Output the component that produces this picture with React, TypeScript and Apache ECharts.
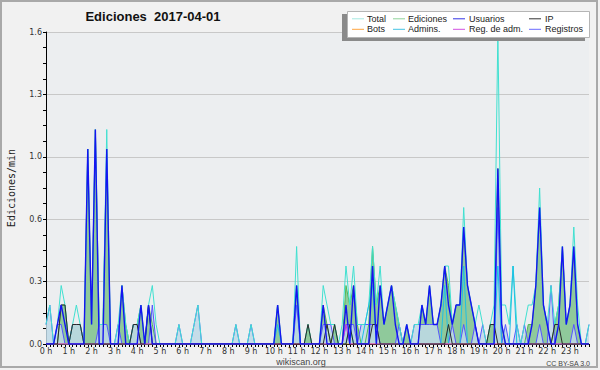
import React, { useEffect, useRef } from "react";
import * as echarts from "echarts";

// Edits per 10-minute bin (144 bins, 00:00 .. 23:50); plotted as edits per minute.
const total = [
  1, 2, 0, 1, 3, 2, 0, 1, 2, 1, 0, 10,
  1, 11, 1, 1, 11, 0, 0, 1, 3, 1, 0, 1,
  1, 2, 0, 2, 3, 1, 0, 0, 0, 0, 0, 1,
  0, 0, 0, 1, 2, 0, 0, 0, 0, 0, 0, 0,
  0, 0, 1, 0, 0, 0, 1, 0, 0, 0, 0, 0,
  0, 2, 0, 0, 0, 0, 5, 0, 0, 1, 0, 0,
  0, 3, 2, 1, 1, 0, 1, 4, 2, 4, 1, 1,
  1, 2, 5, 2, 4, 1, 2, 3, 2, 1, 0, 1,
  0, 1, 1, 2, 1, 3, 1, 1, 2, 4, 4, 1,
  2, 2, 7, 3, 2, 1, 2, 1, 0, 1, 2, 16,
  2, 2, 1, 4, 1, 0, 1, 2, 2, 3, 8, 2,
  1, 3, 1, 2, 5, 1, 2, 6, 2, 0, 0, 1,
];
const ediciones = [
  0, 0, 0, 0, 2, 2, 0, 1, 1, 1, 0, 10,
  1, 11, 1, 1, 10, 0, 0, 0, 3, 1, 0, 1,
  1, 2, 0, 2, 1, 0, 0, 0, 0, 0, 0, 0,
  0, 0, 0, 0, 0, 0, 0, 0, 0, 0, 0, 0,
  0, 0, 0, 0, 0, 0, 0, 0, 0, 0, 0, 0,
  0, 2, 0, 0, 0, 0, 3, 0, 0, 1, 0, 0,
  0, 2, 1, 0, 1, 0, 0, 3, 2, 3, 1, 0,
  0, 1, 5, 2, 3, 1, 2, 3, 2, 1, 0, 1,
  0, 0, 0, 2, 1, 3, 1, 1, 2, 4, 3, 1,
  2, 2, 6, 3, 2, 1, 0, 0, 0, 1, 1, 9,
  1, 0, 0, 0, 0, 0, 0, 1, 1, 3, 7, 2,
  1, 0, 1, 2, 5, 1, 2, 5, 1, 0, 0, 0,
];
const usuarios = [
  0, 0, 0, 1, 2, 1, 0, 0, 0, 0, 0, 10,
  1, 11, 0, 0, 10, 0, 0, 0, 3, 0, 0, 0,
  0, 2, 0, 2, 0, 0, 0, 0, 0, 0, 0, 0,
  0, 0, 0, 0, 0, 0, 0, 0, 0, 0, 0, 0,
  0, 0, 0, 0, 0, 0, 0, 0, 0, 0, 0, 0,
  0, 2, 0, 0, 0, 0, 3, 0, 0, 0, 0, 0,
  0, 2, 0, 0, 0, 0, 0, 2, 0, 3, 0, 0,
  0, 0, 4, 0, 3, 1, 2, 3, 1, 0, 0, 1,
  0, 0, 0, 2, 1, 3, 1, 1, 2, 4, 2, 1,
  2, 2, 6, 3, 2, 1, 0, 0, 0, 0, 0, 9,
  1, 0, 0, 0, 0, 0, 0, 0, 1, 3, 7, 2,
  1, 0, 0, 1, 5, 1, 2, 5, 1, 0, 0, 0,
];
const ip = [
  0, 0, 0, 0, 2, 2, 0, 1, 1, 1, 0, 0,
  0, 0, 0, 0, 0, 0, 0, 0, 0, 0, 0, 1,
  1, 0, 0, 2, 0, 0, 0, 0, 0, 0, 0, 0,
  0, 0, 0, 0, 0, 0, 0, 0, 0, 0, 0, 0,
  0, 0, 0, 0, 0, 0, 0, 0, 0, 0, 0, 0,
  0, 0, 0, 0, 0, 0, 0, 0, 0, 1, 0, 0,
  0, 0, 1, 0, 1, 0, 0, 0, 1, 0, 0, 0,
  0, 0, 1, 1, 0, 0, 0, 0, 0, 0, 0, 0,
  0, 0, 0, 0, 0, 0, 0, 0, 0, 0, 1, 0,
  0, 0, 0, 0, 0, 0, 0, 0, 0, 1, 1, 0,
  0, 0, 0, 0, 0, 0, 0, 0, 0, 0, 0, 0,
  0, 0, 1, 1, 0, 0, 0, 0, 0, 0, 0, 0,
];
const bots = [
  0, 0, 0, 0, 0, 0, 0, 0, 0, 0, 0, 0,
  0, 0, 0, 0, 0, 0, 0, 0, 0, 0, 0, 0,
  0, 0, 0, 0, 0, 0, 0, 0, 0, 0, 0, 0,
  0, 0, 0, 0, 0, 0, 0, 0, 0, 0, 0, 0,
  0, 0, 0, 0, 0, 0, 0, 0, 0, 0, 0, 0,
  0, 0, 0, 0, 0, 0, 0, 0, 0, 0, 0, 0,
  0, 0, 0, 0, 0, 0, 0, 0, 0, 0, 0, 0,
  0, 0, 0, 0, 0, 0, 0, 0, 0, 0, 0, 0,
  0, 0, 0, 0, 0, 0, 0, 0, 0, 0, 0, 0,
  0, 0, 0, 0, 0, 0, 0, 0, 0, 0, 0, 0,
  0, 0, 0, 0, 0, 0, 0, 0, 0, 0, 0, 0,
  0, 0, 0, 0, 0, 0, 0, 0, 0, 0, 0, 0,
];
const admins = [
  0, 0, 0, 0, 0, 0, 0, 0, 0, 0, 0, 0,
  0, 0, 0, 0, 0, 0, 0, 0, 0, 0, 0, 0,
  0, 0, 0, 0, 0, 0, 0, 0, 0, 0, 0, 0,
  0, 0, 0, 0, 0, 0, 0, 0, 0, 0, 0, 0,
  0, 0, 0, 0, 0, 0, 0, 0, 0, 0, 0, 0,
  0, 1, 0, 0, 0, 0, 3, 0, 0, 0, 0, 0,
  0, 0, 0, 0, 0, 0, 0, 0, 1, 0, 0, 0,
  1, 2, 3, 0, 0, 0, 0, 0, 0, 0, 0, 0,
  0, 0, 0, 0, 0, 0, 0, 0, 0, 3, 0, 0,
  0, 0, 4, 0, 0, 0, 0, 0, 0, 0, 0, 4,
  0, 0, 0, 4, 0, 0, 0, 0, 0, 0, 0, 0,
  0, 0, 0, 0, 0, 0, 0, 0, 0, 0, 0, 0,
];
const regAdm = [
  0, 0, 0, 0, 0, 0, 0, 0, 0, 0, 0, 0,
  0, 0, 0, 0, 0, 0, 0, 0, 0, 0, 0, 0,
  0, 0, 0, 0, 0, 0, 0, 0, 0, 0, 0, 0,
  0, 0, 0, 0, 0, 0, 0, 0, 0, 0, 0, 0,
  0, 0, 0, 0, 0, 0, 0, 0, 0, 0, 0, 0,
  0, 0, 0, 0, 0, 0, 0, 0, 0, 0, 0, 0,
  0, 0, 0, 0, 0, 0, 0, 1, 0, 0, 0, 0,
  0, 0, 0, 0, 0, 0, 0, 0, 0, 0, 0, 0,
  0, 0, 0, 0, 0, 0, 0, 0, 0, 0, 0, 0,
  0, 0, 0, 0, 0, 0, 0, 0, 0, 0, 0, 0,
  0, 0, 0, 0, 0, 0, 0, 0, 0, 0, 0, 0,
  0, 0, 0, 0, 0, 0, 0, 0, 0, 0, 0, 0,
];
const registros = [
  1, 2, 0, 1, 1, 0, 0, 1, 1, 1, 0, 0,
  0, 0, 1, 1, 1, 0, 0, 1, 0, 0, 0, 1,
  1, 0, 0, 0, 2, 0, 0, 0, 0, 0, 0, 1,
  0, 0, 0, 1, 2, 0, 0, 0, 0, 0, 0, 0,
  0, 0, 1, 0, 0, 0, 1, 0, 0, 0, 0, 0,
  0, 0, 0, 0, 0, 0, 2, 0, 0, 0, 0, 0,
  0, 1, 1, 1, 0, 0, 0, 1, 1, 1, 0, 1,
  1, 1, 1, 1, 0, 0, 0, 0, 0, 1, 0, 0,
  0, 1, 1, 1, 1, 1, 1, 1, 0, 0, 0, 1,
  0, 0, 1, 0, 0, 1, 0, 1, 0, 0, 0, 7,
  0, 1, 0, 0, 1, 0, 1, 0, 0, 0, 1, 0,
  0, 3, 0, 0, 0, 0, 0, 1, 0, 0, 0, 1,
];

const hourLabels = [
  "0 h", "1 h", "2 h", "3 h", "4 h", "5 h", "6 h", "7 h", "8 h", "9 h", "10 h", "11 h",
  "12 h", "13 h", "14 h", "15 h", "16 h", "17 h", "18 h", "19 h", "20 h", "21 h", "22 h", "23 h",
];
const yTickLabels = ["0.0", "0.3", "0.6", "1.0", "1.3", "1.6"];

const legendNames = ["Total", "Ediciones", "Usuarios", "IP", "Bots", "Admins.", "Reg. de adm.", "Registros"];
const legendColors = ["#a6e9e2", "#8fd39a", "#3434e6", "#333333", "#ffa540", "#44c4e4", "#d24fe2", "#6b6bff"];

const BIN_MINUTES = 10;
const toPoints = (arr: number[]) => arr.map((c, i) => [i, c / BIN_MINUTES]);

const lineSeries = (name: string, data: number[], color: string, width: number, area?: any) => ({
  name,
  type: "line",
  data: toPoints(data),
  showSymbol: false,
  symbol: "none",
  silent: true,
  lineStyle: { color, width },
  itemStyle: { color },
  areaStyle: area,
  clip: true,
});

function buildGraphic() {
  const els: any[] = [];
  els.push({
    type: "rect",
    shape: { x: 1, y: 1, width: 596, height: 366 },
    style: { fill: "none", stroke: "#a9a9a9", lineWidth: 2 },
    silent: true,
    z: 100,
  });
  els.push({
    type: "text",
    x: 153,
    y: 16,
    style: {
      text: "Ediciones  2017-04-01",
      font: 'bold 13px "Liberation Sans"',
      fill: "#111",
      align: "center",
      verticalAlign: "middle",
      textAlign: "center",
      textVerticalAlign: "middle",
    },
    z: 100,
  });
  els.push({
    type: "text",
    x: 11,
    y: 188,
    rotation: Math.PI / 2,
    style: {
      text: "Ediciones/min",
      font: '10px "DejaVu Sans Mono"',
      fill: "#222",
      align: "center",
      verticalAlign: "middle",
      textAlign: "center",
      textVerticalAlign: "middle",
    },
    z: 100,
  });
  els.push({
    type: "text",
    x: 301,
    y: 362,
    style: {
      text: "wikiscan.org",
      font: '9px "Liberation Sans"',
      fill: "#444",
      align: "center",
      verticalAlign: "middle",
      textAlign: "center",
      textVerticalAlign: "middle",
    },
    z: 100,
  });
  els.push({
    type: "text",
    x: 590,
    y: 363,
    style: {
      text: "CC BY-SA 3.0",
      font: '7px "Liberation Sans"',
      fill: "#444",
      align: "right",
      verticalAlign: "middle",
      textAlign: "right",
      textVerticalAlign: "middle",
    },
    z: 100,
  });
  // legend box with shadow
  els.push({
    type: "rect",
    shape: { x: 342, y: 14, width: 243, height: 27 },
    style: { fill: "#8a8a8a" },
    z: 100,
  });
  els.push({
    type: "rect",
    shape: { x: 347.5, y: 11.5, width: 242, height: 26 },
    style: { fill: "#ffffff", stroke: "#b5b5b5", lineWidth: 1 },
    z: 101,
  });
  const lineX = [352, 393, 453, 529];
  const textX = [367, 408, 469, 545];
  const rowY = [18.8, 29.3];
  legendNames.forEach((name, idx) => {
    const col = idx % 4;
    const row = Math.floor(idx / 4);
    els.push({
      type: "line",
      shape: { x1: lineX[col], y1: rowY[row], x2: lineX[col] + 12, y2: rowY[row] },
      style: { stroke: legendColors[idx], lineWidth: 1 },
      z: 102,
    });
    els.push({
      type: "text",
      x: textX[col],
      y: rowY[row],
      style: {
        text: name,
        font: '9px "Liberation Sans"',
        fill: "#222",
        verticalAlign: "middle",
        textVerticalAlign: "middle",
      },
      z: 102,
    });
  });
  return els;
}

export default function App() {
  const ref = useRef<HTMLDivElement>(null);
  useEffect(() => {
    document.body.style.margin = "0";
    const chart = echarts.init(ref.current as HTMLDivElement, null, { renderer: "svg" });
    const axisFont = { fontSize: 8, color: "#333", fontFamily: "DejaVu Sans" };
    chart.setOption({
      animation: false,
      backgroundColor: "#f1f1f1",
      grid: {
        left: 46,
        right: 11,
        top: 32,
        bottom: 26,
        show: true,
        backgroundColor: "#eceef0",
        borderWidth: 0,
      },
      xAxis: {
        type: "value",
        min: 0,
        max: 143,
        interval: 6,
        axisLine: { show: true, onZero: false, lineStyle: { color: "#000", width: 1 } },
        axisTick: { show: true, length: 3, lineStyle: { color: "#000" } },
        minorTick: { show: true, splitNumber: 6, length: 3, lineStyle: { color: "#000" } },
        splitLine: { show: false },
        minorSplitLine: { show: false },
        axisLabel: {
          ...axisFont,
          margin: 3,
          showMaxLabel: false,
          formatter: (v: number) => hourLabels[Math.round(v / 6)] ?? "",
        },
      },
      yAxis: {
        type: "value",
        min: 0,
        max: 1.6,
        interval: 0.32,
        axisLine: { show: true, lineStyle: { color: "#000", width: 1 } },
        axisTick: { show: true, length: 3, lineStyle: { color: "#000" } },
        minorTick: { show: true, splitNumber: 4, length: 3, lineStyle: { color: "#000" } },
        splitLine: { show: true, lineStyle: { color: "#c8c8c8", width: 1 } },
        minorSplitLine: { show: false },
        axisLabel: {
          ...axisFont,
          margin: 4,
          formatter: (v: number) => yTickLabels[Math.round(v / 0.32)] ?? "",
        },
      },
      series: [
        lineSeries("Ediciones", ediciones, "#52b852", 1, { color: "#8fc99b", opacity: 1 }),
        lineSeries("Registros", registros, "#5555ff", 1, { color: "#bfd9e8", opacity: 0.85 }),
        lineSeries("Total", total, "#40e0d0", 1),
        lineSeries("Admins.", admins, "#1ec0e4", 1),
        lineSeries("Bots", bots, "#ffa540", 1),
        lineSeries("Reg. de adm.", regAdm, "#cc33dd", 1),
        lineSeries("IP", ip, "#2a2a2a", 1),
        lineSeries("Usuarios", usuarios, "#1414f2", 1.4),
      ],
      graphic: buildGraphic(),
    });
    return () => chart.dispose();
  }, []);
  return <div ref={ref} style={{ width: 600, height: 370 }} />;
}
